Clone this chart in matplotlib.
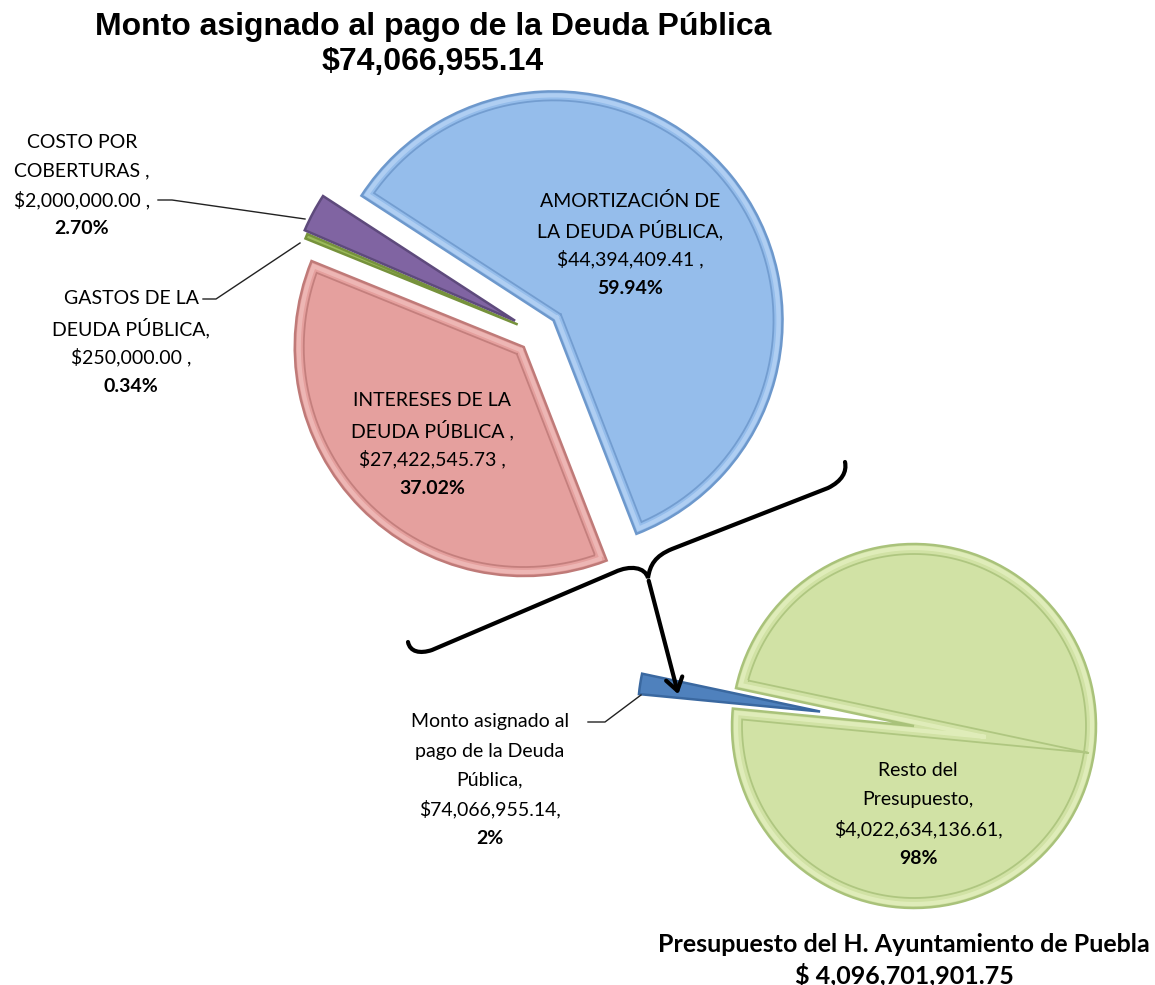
import numpy as np
import matplotlib.pyplot as plt
from matplotlib.patches import FancyArrowPatch, PathPatch
from matplotlib.path import Path

W, H = 1155, 985

# --- datos ---
top_lines = [['AMORTIZACIÓN DE', 'LA DEUDA PÚBLICA,'],
             ['INTERESES DE LA', 'DEUDA PÚBLICA ,'],
             ['GASTOS DE LA', 'DEUDA PÚBLICA,'],
             ['COSTO POR', 'COBERTURAS ,']]
top_values = [44394409.41, 27422545.73, 250000.00, 2000000.00]
top_total_txt = '$74,066,955.14'
top_colors = ['#95BDEB', '#E5A09E', '#9BBB59', '#8064A2']
top_edges = ['#6D98CC', '#BF7A78', '#76923C', '#5E4A7C']
top_light = ['#C2DAF7', '#F3C6C4', '#C3D99A', '#A892C4']

bot_lines = [['Monto asignado al', 'pago de la Deuda', 'Pública,'],
             ['Resto del', 'Presupuesto,']]
bot_values = [74066955.14, 4022634136.61]
bot_total_txt = '$ 4,096,701,901.75'
bot_colors = ['#4F81BD', '#D1E2A5']
bot_edges = ['#3A68A0', '#A9C27A']
bot_light = ['#7FA4D6', '#EAF4C8']

LBL_FONT = 'Lato'


def Y(y):
    return H - y


def bevel(ax, w, color, inset=9, lw=1.3, alpha=0.85):
    cx, cy = w.center
    r = w.r
    t1, t2 = np.radians(w.theta1), np.radians(w.theta2)
    half = (t2 - t1) / 2
    if np.degrees(2 * half) < 12:
        return
    mid = (t1 + t2) / 2
    d = inset / np.sin(half)
    px, py = cx + d * np.cos(mid), cy + d * np.sin(mid)
    ri = r - inset

    def hit(t):
        ux, uy = np.cos(t), np.sin(t)
        qx, qy = px - cx, py - cy
        b = qx * ux + qy * uy
        c = qx * qx + qy * qy - ri * ri
        s = -b + np.sqrt(max(b * b - c, 0))
        return px + s * ux, py + s * uy

    p1, p2 = hit(t1), hit(t2)
    a1 = np.arctan2(p1[1] - cy, p1[0] - cx)
    a2 = np.arctan2(p2[1] - cy, p2[0] - cx)
    if a2 < a1:
        a2 += 2 * np.pi
    aa = np.linspace(a1, a2, 200)
    xs = np.concatenate([[px, p1[0]], cx + ri * np.cos(aa), [p2[0], px]])
    ys = np.concatenate([[py, p1[1]], cy + ri * np.sin(aa), [p2[1], py]])
    ln, = ax.plot(xs, ys, color=color, lw=lw, alpha=alpha,
                  solid_joinstyle='miter')
    ln.set_clip_path(w)


def label(ax, x, y0, lines, bold_line, dy=29, size=14):
    for i, t in enumerate(lines):
        ax.text(x, Y(y0 + i * dy), t, ha='center', va='center', fontsize=size,
                family=LBL_FONT, color='black')
    ax.text(x, Y(y0 + len(lines) * dy), bold_line, ha='center', va='center',
            fontsize=size, family=LBL_FONT, fontweight='bold', color='black')


fig = plt.figure(figsize=(W / 100, H / 100), dpi=100)
ax = fig.add_axes([0, 0, 1, 1])

# pastel superior
wt, _ = ax.pie(top_values, colors=top_colors, startangle=147, counterclock=False,
               explode=[20, 20, 22, 26], radius=229, center=(538, Y(333)),
               wedgeprops=dict(linewidth=1.8))
for w, e, l in zip(wt, top_edges, top_light):
    w.set_edgecolor(e)
    bevel(ax, w, l, inset=4, lw=3, alpha=0.6)
    bevel(ax, w, e, inset=9)

# pastel inferior
wb, _ = ax.pie(bot_values, colors=bot_colors, startangle=174.5, counterclock=False,
               explode=[95, 0], radius=182, center=(914, Y(726)),
               wedgeprops=dict(linewidth=1.8))
for w, e, l in zip(wb, bot_edges, bot_light):
    w.set_edgecolor(e)
    bevel(ax, w, l, inset=4, lw=3, alpha=0.6)
    bevel(ax, w, e, inset=10)

ax.set_xlim(0, W)
ax.set_ylim(0, H)
ax.set_aspect('equal')
ax.axis('off')

# etiquetas
top_sum = sum(top_values)
top_pct = ['%.2f%%' % (v / top_sum * 100) for v in top_values]
top_pos = [(630, 201), (432, 401), (131, 299), (82, 142)]
for lines, v, p, (x, y) in zip(top_lines, top_values, top_pct, top_pos):
    label(ax, x, y, lines + ['${:,.2f} ,'.format(v)], p)

bot_sum = sum(bot_values)
bot_pct = ['%.0f%%' % (v / bot_sum * 100) for v in bot_values]
bot_pos = [(490, 722), (918, 771)]
for lines, v, p, (x, y) in zip(bot_lines, bot_values, bot_pct, bot_pos):
    label(ax, x, y, lines + ['${:,.2f},'.format(v)], p)

# lineas guia
for pts in [[(158, 200), (172, 200), (305, 219)],
            [(203, 299), (216, 299), (300, 243)],
            [(588, 722), (605, 722), (641, 695)]]:
    ax.plot([p[0] for p in pts], [Y(p[1]) for p in pts], color='#222222', lw=1)

# llave y flecha
verts = [(408, 642), (410, 652), (420, 654), (432, 650), (615, 572),
         (630, 565), (645, 567), (648, 578),
         (650, 565), (655, 556), (672, 549), (828, 488),
         (842, 481), (847, 472), (845, 462)]
codes = [Path.MOVETO, Path.CURVE4, Path.CURVE4, Path.CURVE4, Path.LINETO,
         Path.CURVE4, Path.CURVE4, Path.CURVE4,
         Path.CURVE4, Path.CURVE4, Path.CURVE4, Path.LINETO,
         Path.CURVE4, Path.CURVE4, Path.CURVE4]
brace = Path([(x, Y(y)) for x, y in verts], codes)
ax.add_patch(PathPatch(brace, facecolor='none', edgecolor='black', lw=3,
                       capstyle='round'))
ax.add_patch(FancyArrowPatch((648, Y(578)), (679, Y(697)),
                             arrowstyle='->,head_length=9,head_width=6',
                             color='black', lw=3, mutation_scale=1))

# titulos
ax.text(433, Y(27), 'Monto asignado al pago de la Deuda Pública', ha='center',
        va='center', fontsize=23, fontweight='bold', family='Liberation Sans')
ax.text(433, Y(62), top_total_txt, ha='center', va='center', fontsize=23,
        fontweight='bold', family='Liberation Sans')
ax.text(904, Y(944), 'Presupuesto del H. Ayuntamiento de Puebla', ha='center',
        va='center', fontsize=18, fontweight='bold', family=LBL_FONT)
ax.text(904, Y(975), bot_total_txt, ha='center', va='center', fontsize=18,
        fontweight='bold', family=LBL_FONT)

fig.savefig('out.png', dpi=100)
